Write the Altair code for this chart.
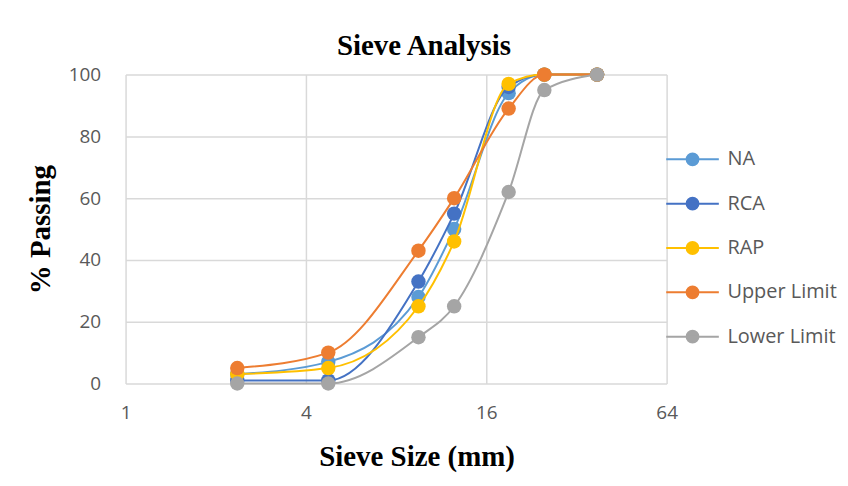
import altair as alt
import pandas as pd

sizes = [2.36, 4.75, 9.5, 12.5, 19, 25, 37.5]
series_names = ["NA", "RCA", "RAP", "Upper Limit", "Lower Limit"]
na = [3, 7, 28, 50, 94, 100, 100]
rca = [1, 1, 33, 55, 96, 100, 100]
rap = [3, 5, 25, 46, 97, 100, 100]
upper = [5, 10, 43, 60, 89, 100, 100]
lower = [0, 0, 15, 25, 62, 95, 100]
colors = ["#5B9BD5", "#4472C4", "#FFC000", "#ED7D31", "#A5A5A5"]
x_ticks = [1, 4, 16, 64]
y_ticks = [0, 20, 40, 60, 80, 100]

values = [na, rca, rap, upper, lower]

color_scale = alt.Scale(domain=series_names, range=colors)
x_scale = alt.Scale(type="log", base=2, domain=[1, 64], nice=False)
y_scale = alt.Scale(domain=[0, 100], nice=False)

legend_path = ("M-1.2,0H1.2M-0.27,0A0.27,0.27 0 1,0 0.27,0"
               "A0.27,0.27 0 1,0 -0.27,0Z")

legend = alt.Legend(
    title=None, orient="none", legendX=546, legendY=62,
    symbolType=legend_path, symbolSize=1936, symbolStrokeWidth=2,
    symbolOpacity=1,
    labelFont="Open Sans", labelFontSize=20, labelColor="#595959",
    labelOffset=12, rowPadding=11.5, padding=0, labelLimit=300,
)

x_axis = alt.Axis(values=x_ticks, title="Sieve Size (mm)", grid=True,
                  labelExpr="datum.value", labelPadding=20, titlePadding=20,
                  labelFlush=False, titleX=292)
y_axis = alt.Axis(values=y_ticks, title="% Passing", grid=True,
                  labelPadding=25, titlePadding=13)

layers = []
for i, (name, vals) in enumerate(zip(series_names, values)):
    df = pd.DataFrame({"size": sizes, "pct": vals, "series": name})
    base = alt.Chart(df).encode(
        x=alt.X("size:Q", scale=x_scale, axis=x_axis),
        y=alt.Y("pct:Q", scale=y_scale, axis=y_axis),
    )
    line = base.mark_line(interpolate="monotone", strokeWidth=2).encode(
        stroke=alt.Stroke("series:N", scale=color_scale, legend=legend),
    )
    pts = base.mark_point(filled=True, size=210, opacity=1).encode(
        fill=alt.Fill("series:N", scale=color_scale, legend=legend),
    )
    layers += [line, pts]

chart = alt.layer(*layers).properties(
    width=543, height=310,
    autosize=alt.AutoSizeParams(type="none"),
    padding={"left": 118, "top": 66, "right": 174, "bottom": 96},
    title=alt.Title("Sieve Analysis", font="Liberation Serif", fontSize=29,
                    fontWeight="bold", color="#000000", anchor="middle",
                    dx=28, offset=5),
).configure_view(stroke=None).configure_axis(
    domain=False, ticks=False, gridColor="#D9D9D9", gridWidth=1.5,
    labelFont="Open Sans", labelFontSize=19, labelColor="#595959",
    titleFont="Liberation Serif", titleFontSize=29, titleFontWeight="bold",
    titleColor="#000000",
)

chart.save("out.html", embed_options={"renderer": "svg", "actions": False})
